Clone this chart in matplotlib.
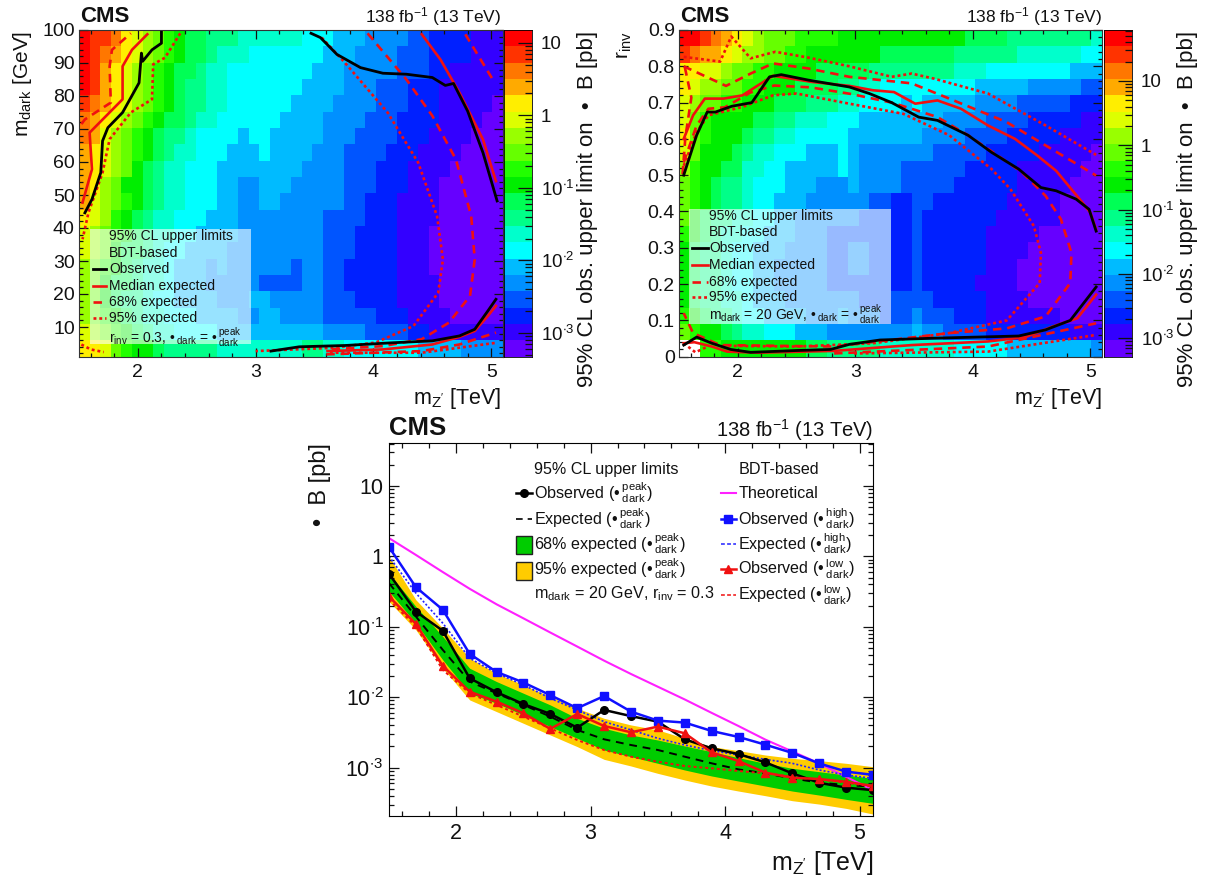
#!/usr/bin/env python
# cms dark sector limits: two 2d scans and the 1d limit plot
import numpy as np
import matplotlib
matplotlib.use('Agg')
import matplotlib.pyplot as plt
from matplotlib.colors import ListedColormap, BoundaryNorm
from matplotlib.lines import Line2D
from matplotlib.patches import Rectangle
from matplotlib.ticker import FixedLocator, LogLocator, MultipleLocator, NullFormatter

plt.rcParams['font.family'] = ['Liberation Sans', 'DejaVu Sans']
plt.rcParams['mathtext.fontset'] = 'custom'
plt.rcParams['mathtext.rm'] = 'Liberation Sans'
plt.rcParams['mathtext.it'] = 'Liberation Sans'
plt.rcParams['mathtext.bf'] = 'Liberation Sans:bold'

W, H = 1205, 880

# palette bands, bottom of the colour bar to the top
band_colors = ['#6600ff', '#3300ff', '#0020ff', '#0055ff', '#0090ff', '#00bbff', '#00ffff',
               '#00ffcc', '#00ff88', '#00ff55', '#00ee00', '#22ff00', '#66ff00', '#99ff00',
               '#ddff00', '#ffee00', '#ffaa00', '#ff7700', '#ff3300', '#ff0000']
band_chars = '0123456789abcdefghij'

# colour band of each cell, first string is the top row (mdark = 100)
left_cells = [
    'jiihfedcba99888777777' + '6665554444332222111',
    'jihgfedcba99877766666' + '6655544443332222111',
    'jigfedcba99877666666' + '6' + '6555444443332211111',
    'jigfedcba98877666666' + '6' + '5555444333222111111',
    'ihgfedcba98877666666' + '5' + '5554444333222111110',
    'hgfedcba998776666665' + '5' + '5544443332222111100',
    'hgedcba9887666656655' + '5' + '5544433332221111000',
    'gfedcba9877666555655' + '5' + '5444333322211110000',
    'gfedca98776665555555' + '5' + '4444333222111100000',
    'gfdcaa98776665544555' + '4' + '4444333222111000000',
    'gedcba98776665544554' + '4' + '4444332221111000000',
    'fedba987766655544444' + '4' + '4433332221111000000',
    'edcba987766555544444' + '4' + '4433322221110000000',
    'edca9987665555444444' + '4' + '4433322221110000000',
    'dcba9877655545444444' + '3' + '4433222221110000000',
    'dca99877655544444333' + '3' + '4433222221111000000',
    'dca98876655554445544' + '4' + '4433322221111000000',
    'dcba9877666555544554' + '4' + '4433333222111100000',
    'edcba987766665555555' + '5' + '5544443333221111111',
    'ffecbaa9888887777777' + '7' + '8877666666655554444',
]

# same for the rinv scan, first string is the top row (rinv = 0.9), '.' is an empty cell
right_cells = [
    'jjihgfedcccbbbbaaaaa' + 'aa' + 'aaaaa9999888888887',
    'ihggfeddccbbaaaaaaa9' + '99' + '999988888877777766',
    'ffeedccbbaaaa9999988' + '88' + '888877766666666555',
    'feddccbbaaa999988776' + '66' + '666666555554444433',
    'edccbbaaa99988877666' + '65' + '655555444433333222',
    'ecbaaaa9988777666555' + '55' + '555444433332222211',
    'fcbaaa98877666665555' + '55' + '544443333222221111',
    'ecaaa987766655565444' + '44' + '443333322222111110',
    'dbaa9977665555565444' + '43' + '333332222211111100',
    'cba98876665554445444' + '43' + '333322222211111000',
    'cba98876655544444433' + '22' + '332222222111110000',
    'ca988776655444444333' + '22' + '322222221111110000',
    'ba987766555444333333' + '22' + '322222211111000000',
    'a9887665554444334433' + '22' + '322222211110000000',
    'a9887665544444334433' + '22' + '322222211100000000',
    'a9887665544444333333' + '22' + '322222111100000000',
    'a9887765554444444333' + '33' + '332222211110000000',
    'ba988766555544454443' + '33' + '433322211111110000',
    'cbaa9877666555444444' + '44' + '544333322222222111',
    '..bbaaaaaaaa99888887' + '77' + '777766666555555554',
]

# left scan contours: x in TeV, y in GeV
l_obs_a = [[1.55, 1.61, 1.685, 1.70, 1.745, 1.87, 2.01, 2.03, 2.04, 2.12, 2.20, 2.20],
           [44.6, 48.7, 56.8, 66.4, 70.4, 75.0, 84.0, 93.0, 90.5, 94.0, 96.0, 100.0]]
l_obs_b = [[3.47, 3.55, 3.69, 3.89, 4.08, 4.28, 4.50, 4.61, 4.68, 4.80, 4.93, 5.05],
           [99.0, 97.7, 92.6, 88.6, 86.9, 86.6, 85.6, 83.2, 83.8, 75.4, 62.8, 48.2]]
l_obs_c = [[3.13, 3.37, 3.76, 4.15, 4.50, 4.73, 4.86, 4.97, 5.04],
           [2.7, 4.0, 4.4, 5.2, 5.8, 7.3, 9.3, 14.8, 18.4]]
l_med_a = [[1.53, 1.61, 1.59, 1.87, 1.87, 1.95, 2.08],
           [47.7, 57.8, 68.9, 79.0, 89.0, 94.0, 98.7]]
l_med_b = [[4.41, 4.57, 4.73, 4.93, 5.04], [98.7, 91.0, 81.0, 66.8, 54.2]]
l_med_c = [[3.61, 4.08, 4.50, 4.73, 4.86, 4.97, 5.04], [2.7, 3.2, 4.7, 7.0, 8.8, 13.3, 16.4]]
l_68_a = [[1.52, 1.55, 1.77, 1.76, 1.78, 1.94], [71.5, 72.9, 78.0, 89.0, 94.0, 99.0]]
l_68_b = [[3.95, 4.28, 4.50, 4.70, 4.83, 4.86, 4.82, 4.64, 4.41, 4.08, 3.60],
          [99.0, 85.0, 74.0, 60.8, 43.6, 30.5, 19.4, 11.3, 6.3, 4.2, 3.2]]
l_68_c = [[4.78, 5.03], [98.7, 84.0]]
l_68_d = [[3.60, 4.41, 4.73, 5.04], [1.7, 2.7, 4.7, 8.3]]
l_95_a = [[2.36, 2.23, 2.13, 2.12, 1.94, 1.76, 1.70, 1.58, 1.53],
          [99.0, 91.6, 89.6, 79.0, 75.0, 66.9, 56.8, 44.6, 36.6]]
l_95_b = [[3.56, 3.76, 4.12, 4.38, 4.54, 4.59, 4.55, 4.34, 4.02, 3.66, 3.00],
          [97.7, 90.0, 75.0, 59.8, 43.6, 30.5, 20.4, 10.3, 5.3, 3.7, 2.7]]
l_95_c = [[3.63, 4.41, 5.04], [2.2, 2.2, 5.2]]
l_95_d = [[1.52, 1.60, 1.71], [4.7, 3.2, 2.4]]

# right scan contours: x in TeV, y is rinv
r_obs_a = [[1.54, 1.65, 1.74, 1.81, 1.95, 2.12, 2.27, 2.37, 2.60, 2.95, 3.12, 3.31, 3.54, 3.70,
            3.96, 4.16, 4.39, 4.58, 4.71, 4.88, 4.99, 5.05],
           [.50, .61, .674, .674, .69, .70, .771, .777, .762, .743, .725, .70, .66, .651,
            .61, .563, .517, .466, .457, .434, .406, .346]]
r_obs_b = [[1.54, 1.65, 1.78, 1.94, 2.11, 2.50, 2.79, 2.95, 3.21, 3.67, 4.39, 4.62, 4.83, 5.05],
           [.032, .054, .037, .02, .012, .017, .02, .034, .046, .051, .057, .074, .10, .192]]
r_med_a = [[1.54, 1.62, 1.72, 1.88, 2.04, 2.30, 2.63, 2.95, 3.15, 3.33, 3.51, 3.70, 3.90, 4.13,
            4.36, 4.55, 4.71, 4.91, 5.00, 5.05],
           [.60, .665, .711, .711, .72, .774, .757, .746, .734, .729, .697, .706, .683, .637,
            .60, .554, .512, .434, .397, .35]]
r_med_b = [[1.54, 1.63, 1.78, 1.91, 2.17, 2.82, 3.48, 4.13, 4.45, 4.68, 4.89, 5.05],
           [.037, .04, .028, .014, .011, .016, .032, .042, .054, .083, .106, .171]]
r_68_a = [[1.54, 1.90, 2.11, 2.30, 2.60, 2.95, 3.48, 3.80, 4.29, 4.62, 5.05],
          [.80, .746, .78, .808, .794, .771, .753, .711, .646, .582, .499]]
r_68_b = [[1.55, 1.605, 1.554, 1.53], [.797, .714, .604, .50]]
r_68_c = [[1.54, 1.65, 1.75, 1.89, 2.11, 2.31, 2.62, 2.96, 3.31, 3.48, 3.70, 3.96, 4.42, 4.62,
           4.75, 4.84, 4.83, 4.62, 4.29, 3.80, 2.82, 1.85, 1.62, 1.54],
          [.535, .637, .683, .687, .728, .747, .742, .724, .70, .683, .66, .61, .508, .443,
           .379, .286, .203, .111, .078, .065, .028, .032, .065, .12]]
r_68_d = [[2.82, 4.13, 5.05], [.009, .028, .092]]
r_95_a = [[1.54, 1.85, 1.945, 2.11, 2.32, 2.60, 2.95, 3.31, 3.48, 3.67, 4.13, 4.62, 5.05],
          [.826, .813, .882, .822, .84, .824, .80, .771, .78, .766, .725, .637, .556]]
r_95_b = [[1.54, 1.65, 1.75, 2.04, 2.30, 2.50, 2.95, 3.41, 3.80, 4.16, 4.32, 4.52, 4.58, 4.57,
           4.29, 3.80, 3.15, 2.50, 1.85],
          [.526, .619, .665, .688, .72, .725, .697, .669, .61, .517, .462, .36, .286, .203,
           .10, .065, .037, .028, .03]]
r_95_c = [[2.99, 4.13, 5.05], [.009, .014, .06]]
r_95_d = [[1.54, 1.64, 1.73], [.037, .012, .026]]

# limit plot, mass points in TeV
mass = [1.5, 1.7, 1.9, 2.1, 2.3, 2.5, 2.7, 2.9, 3.1, 3.3, 3.5, 3.7, 3.9, 4.1, 4.3, 4.5, 4.7, 4.9, 5.1]
obs_peak = [0.567, 0.165, 0.088, 0.0186, 0.0118, 0.0080, 0.0058, 0.0037, 0.0066, 0.0054, 0.0045,
            0.00253, 0.00188, 0.00156, 0.00119, 0.00083, 0.00061, 0.00052, 0.00048]
obs_high = [1.36, 0.366, 0.175, 0.0413, 0.0229, 0.0162, 0.0107, 0.0070, 0.0104, 0.00625, 0.00466,
            0.00437, 0.00332, 0.00273, 0.00212, 0.00162, 0.00115, 0.00088, 0.00079]
obs_low = [0.27, 0.110, 0.0279, 0.0120, 0.00868, 0.00593, 0.00355, 0.00579, 0.00391, 0.00318,
           0.00383, 0.00308, 0.00165, 0.00124, 0.00085, 0.00072, 0.00069, 0.00063, 0.00055]
theory = [1.82, 1.05, 0.60, 0.347, 0.209, 0.132, 0.083, 0.0525, 0.0331, 0.0214, 0.0141, 0.0093,
          0.0060, 0.0039, 0.0025, 0.0017, 0.00115, 0.00074, 0.00048]
# log10 of the limit in pb
log_95_hi = [0, -.616, -1.019, -1.445, -1.659, -1.825, -1.991, -2.156, -2.299, -2.393, -2.464,
             -2.583, -2.701, -2.758, -2.82, -2.867, -2.9, -2.938, -2.986]
log_95_lo = [-.64, -1.043, -1.588, -2.038, -2.204, -2.37, -2.536, -2.701, -2.882, -2.976, -3.081,
             -3.175, -3.261, -3.332, -3.398, -3.469, -3.517, -3.578, -3.659]
log_68_hi = [-.237, -.711, -1.137, -1.588, -1.777, -1.943, -2.109, -2.299, -2.441, -2.536, -2.607,
             -2.692, -2.773, -2.858, -2.938, -3.009, -3.057, -3.104, -3.152]
log_68_lo = [-.498, -.948, -1.469, -1.943, -2.085, -2.251, -2.417, -2.583, -2.749, -2.844, -2.938,
             -3.033, -3.118, -3.19, -3.261, -3.332, -3.389, -3.45, -3.507]
log_exp_peak = [-.379, -.853, -1.327, -1.777, -1.943, -2.109, -2.275, -2.464, -2.597, -2.678,
                -2.749, -2.844, -2.938, -3.024, -3.081, -3.152, -3.213, -3.246, -3.27]
log_exp_high = [0, -.521, -.948, -1.445, -1.659, -1.825, -2.014, -2.18, -2.346, -2.464, -2.583,
                -2.678, -2.758, -2.82, -2.882, -2.938, -3.033, -3.104, -3.152]
log_exp_low = [-.616, -.995, -1.611, -1.943, -2.109, -2.275, -2.441, -2.607, -2.749, -2.844,
               -2.915, -2.976, -3.009, -3.047, -3.081, -3.128, -3.166, -3.213, -3.27]

x_limits = (1.5, 5.1)
log_labels = ['$\\mathregular{10^{\\bullet 3}}$', '$\\mathregular{10^{\\bullet 2}}$',
              '$\\mathregular{10^{\\bullet 1}}$', '1', '10']
log_ticks = [1e-3, 1e-2, 1e-1, 1, 10]

red = '#f01010'
dash_68 = (0, (3.2, 2.2))
dot_95 = (0, (1.1, 1.1))

fig = plt.figure(figsize=(W / 100, H / 100), dpi=100)


def axes_px(left, top, right, bottom):
    return fig.add_axes([left / W, 1 - bottom / H, (right - left) / W, (bottom - top) / H])


def text_px(x, y, s, **kw):
    kw.setdefault('va', 'center')
    kw.setdefault('ha', 'left')
    kw.setdefault('color', '#111111')
    fig.text(x / W, 1 - y / H, s, **kw)


def key_line(x0, x1, y, **kw):
    fig.add_artist(Line2D([x0 / W, x1 / W], [1 - y / H, 1 - y / H], transform=fig.transFigure, **kw))


def heat_panel(rect, cbar_rect, cells, ylim, zlim, lines):
    ax = axes_px(*rect)
    levels = np.geomspace(zlim[0], zlim[1], 21)
    mids = np.sqrt(levels[:-1] * levels[1:])
    cmap = ListedColormap(band_colors)
    norm = BoundaryNorm(levels, 20)
    grid = np.full((20, 40), np.nan)
    for r, row in enumerate(cells):
        for c, ch in enumerate(row):
            if ch != '.':
                grid[19 - r, c] = mids[band_chars.index(ch)]
    xe = np.linspace(x_limits[0], x_limits[1], 41)
    ye = np.linspace(ylim[0], ylim[1], 21)
    ax.pcolormesh(xe, ye, np.ma.masked_invalid(grid), cmap=cmap, norm=norm)
    for pts, style in lines:
        ax.plot(pts[0], pts[1], **style)
    ax.set_xlim(x_limits)
    ax.set_ylim(ylim)
    ax.xaxis.set_major_locator(MultipleLocator(1))
    ax.xaxis.set_minor_locator(MultipleLocator(0.2))
    ax.tick_params(which='both', direction='in', top=True, right=True, labelsize=14, colors='#111111')
    ax.tick_params(which='major', length=6.5, width=0.9)
    ax.tick_params(which='minor', length=3.2, width=0.9)
    ax.tick_params(axis='x', pad=5)
    ax.tick_params(axis='y', pad=3)
    for s in ax.spines.values():
        s.set_color('#333333')

    cax = axes_px(*cbar_rect)
    cax.pcolormesh([0, 1], levels, mids.reshape(-1, 1), cmap=cmap, norm=norm)
    cax.set_yscale('log')
    cax.set_ylim(zlim)
    cax.set_xticks([])
    cax.yaxis.tick_right()
    cax.yaxis.set_major_locator(FixedLocator(log_ticks))
    cax.set_yticklabels(log_labels)
    cax.yaxis.set_minor_locator(LogLocator(base=10, subs=range(2, 10), numticks=50))
    cax.yaxis.set_minor_formatter(NullFormatter())
    cax.tick_params(which='both', direction='in', labelsize=13.5, colors='#111111')
    cax.tick_params(which='major', length=10, width=0.9, pad=6.5)
    cax.tick_params(which='minor', length=5, width=0.9)
    for s in cax.spines.values():
        s.set_linewidth(0.6)
    return ax


obs_style = dict(color='black', lw=2.0)
med_style = dict(color=red, lw=1.9)
s68 = dict(color=red, lw=1.9, ls=dash_68)
s95 = dict(color=red, lw=1.9, ls=dot_95)

left_lines = [(l_68_a, s68), (l_68_b, s68), (l_68_c, s68), (l_68_d, s68),
              (l_95_a, s95), (l_95_b, s95), (l_95_c, s95), (l_95_d, s95),
              (l_med_a, med_style), (l_med_b, med_style), (l_med_c, med_style),
              (l_obs_a, obs_style), (l_obs_b, obs_style), (l_obs_c, obs_style)]
ax1 = heat_panel((79, 30, 503, 356.7), (504, 30, 532, 356.7), left_cells, (1, 100), (4.7e-4, 15), left_lines)
ax1.yaxis.set_major_locator(FixedLocator([10, 20, 30, 40, 50, 60, 70, 80, 90, 100]))
ax1.yaxis.set_minor_locator(MultipleLocator(2))

right_lines = [(r_68_a, s68), (r_68_b, s68), (r_68_c, s68), (r_68_d, s68),
               (r_95_a, s95), (r_95_b, s95), (r_95_c, s95), (r_95_d, s95),
               (r_med_a, med_style), (r_med_b, med_style),
               (r_obs_a, obs_style), (r_obs_b, obs_style)]
ax2 = heat_panel((679, 30, 1102, 356.7), (1104, 30, 1132, 356.7), right_cells, (0, 0.9), (5.2e-4, 62), right_lines)
ax2.yaxis.set_major_locator(MultipleLocator(0.1))
ax2.yaxis.set_minor_locator(MultipleLocator(0.02))
ax2.set_yticks([0, .1, .2, .3, .4, .5, .6, .7, .8, .9])
ax2.set_yticklabels(['0', '0.1', '0.2', '0.3', '0.4', '0.5', '0.6', '0.7', '0.8', '0.9'])

# headers and axis titles of the two scans
for x_cms, x_right, x_ylab, x_zlab, ylab in [(80, 501, 23, 588, 'm$\\mathregular{_{dark}}$ [GeV]'),
                                             (680, 1102, 624, 1187, 'r$\\mathregular{_{inv}}$')]:
    text_px(x_cms, 16, 'CMS', fontsize=16, fontweight='bold')
    text_px(x_right, 17, '138 fb$\\mathregular{^{-1}}$ (13 TeV)', fontsize=12.5, ha='right')
    text_px(x_ylab, 31, ylab, fontsize=15, rotation=90, ha='center', va='top')
    text_px(x_zlab, 31, '95% CL obs. upper limit on  \u2022  B [pb]', fontsize=16, rotation=90, ha='center', va='top')
    text_px(x_right, 398, "m$\\mathregular{_{Z'}}$ [TeV]", fontsize=15.5, ha='right')

# legends of the two scans
legend_rows = [('95% CL upper limits', None), ('BDT-based', None), ('Observed', obs_style),
               ('Median expected', med_style), ('68% expected', s68), ('95% expected', s95)]
for box, xt, xk, ys, last in [
        ((90, 229, 251, 344), 109, (93, 106), [236, 253, 269, 286, 302, 318, 337],
         'r$\\mathregular{_{inv}}$ = 0.3, \u2022$\\mathregular{\\,_{dark}}$ = \u2022$\\mathregular{\\,^{peak}_{dark}}$'),
        ((689, 209, 891, 324), 709, (692, 708), [216, 232, 248, 265, 282, 297, 314],
         'm$\\mathregular{_{dark}}$ = 20 GeV, \u2022$\\mathregular{\\,_{dark}}$ = \u2022$\\mathregular{\\,^{peak}_{dark}}$')]:
    x0, y0, x1, y1 = box
    fig.add_artist(Rectangle((x0 / W, 1 - y1 / H), (x1 - x0) / W, (y1 - y0) / H, transform=fig.transFigure,
                             facecolor='white', edgecolor='none', alpha=0.6))
    for (label, style), y in zip(legend_rows, ys):
        text_px(xt, y, label, fontsize=10)
        if style is not None:
            key_line(xk[0], xk[1], y, **style)
    text_px(xt, ys[-1], last, fontsize=10)

# limit plot
ax3 = axes_px(389, 443, 873, 816)
m = np.array(mass)
ax3.fill_between(m, 10.0 ** np.array(log_95_lo), 10.0 ** np.array(log_95_hi), color='#ffcc00', lw=0)
ax3.fill_between(m, 10.0 ** np.array(log_68_lo), 10.0 ** np.array(log_68_hi), color='#00cc00', lw=0)
ax3.plot(m, theory, color='#ff20ff', lw=1.5)
ax3.plot(m, 10.0 ** np.array(log_exp_high), color='#2020ff', lw=1.2, ls=(0, (1.2, 1.2)))
ax3.plot(m, 10.0 ** np.array(log_exp_peak), color='black', lw=1.4, ls=(0, (4, 3)))
ax3.plot(m, 10.0 ** np.array(log_exp_low), color=red, lw=1.4, ls=(0, (1.5, 1.5)))
ax3.plot(m, obs_peak, color='black', lw=1.8, marker='o', ms=5.5)
ax3.plot(m, obs_high, color='#1010ff', lw=1.8, marker='s', ms=5.5)
ax3.plot(m, obs_low, color=red, lw=1.8, marker='^', ms=5.5)
ax3.set_xlim(x_limits)
ax3.set_yscale('log')
ax3.set_ylim(2.06e-4, 40.8)
ax3.xaxis.set_major_locator(MultipleLocator(1))
ax3.xaxis.set_minor_locator(MultipleLocator(0.2))
ax3.yaxis.set_major_locator(FixedLocator(log_ticks))
ax3.set_yticklabels(log_labels)
ax3.yaxis.set_minor_locator(LogLocator(base=10, subs=range(2, 10), numticks=50))
ax3.yaxis.set_minor_formatter(NullFormatter())
ax3.tick_params(which='both', direction='in', top=True, right=True, labelsize=15.5, colors='#111111')
ax3.tick_params(which='major', length=7.5, width=0.9)
ax3.tick_params(which='minor', length=3.8, width=0.9)
ax3.tick_params(axis='x', pad=5)
ax3.tick_params(axis='y', pad=4)

text_px(389.5, 428, 'CMS', fontsize=18.5, fontweight='bold')
text_px(873, 430, '138 fb$\\mathregular{^{-1}}$ (13 TeV)', fontsize=14.5, ha='right')
text_px(320, 443, '\u2022  B [pb]', fontsize=17, rotation=90, ha='center', va='top')
text_px(873, 863, "m$\\mathregular{_{Z'}}$ [TeV]", fontsize=18, ha='right')

# legend of the limit plot
lfs = 11.6
text_px(534, 469, '95% CL upper limits', fontsize=lfs)
text_px(738.5, 469, 'BDT-based', fontsize=lfs)
peak = '\u2022$\\mathregular{\\,^{peak}_{dark}}$)'
high = '\u2022$\\mathregular{\\,^{high}_{dark}}$)'
low = '\u2022$\\mathregular{\\,^{low}_{dark}}$)'
text_px(534, 493, 'Observed (' + peak, fontsize=lfs)
text_px(534, 519, 'Expected (' + peak, fontsize=lfs)
text_px(534, 544, '68% expected (' + peak, fontsize=lfs)
text_px(534, 569, '95% expected (' + peak, fontsize=lfs)
text_px(534, 594, 'm$\\mathregular{_{dark}}$ = 20 GeV, r$\\mathregular{_{inv}}$ = 0.3', fontsize=lfs)
text_px(738.5, 493, 'Theoretical', fontsize=lfs)
text_px(738.5, 519, 'Observed (' + high, fontsize=lfs)
text_px(738.5, 544, 'Expected (' + high, fontsize=lfs)
text_px(738.5, 569, 'Observed (' + low, fontsize=lfs)
text_px(738.5, 595, 'Expected (' + low, fontsize=lfs)
key_line(516, 532, 493, color='black', lw=1.8)
key_line(516, 532, 519, color='black', lw=1.2, ls=(0, (4, 3)))
key_line(720.5, 736, 493, color='#ff20ff', lw=1.5)
key_line(720.5, 736, 519, color='#1010ff', lw=1.8)
key_line(720.5, 736, 544, color='#2020ff', lw=1.1, ls=(0, (2.5, 1.5)))
key_line(720.5, 736, 569, color=red, lw=1.8)
key_line(720.5, 736, 595, color=red, lw=1.1, ls=(0, (2.5, 1.5)))
fig.add_artist(Line2D([524 / W], [1 - 493 / H], color='black', marker='o', ms=5.5, ls='none', transform=fig.transFigure))
fig.add_artist(Line2D([728 / W], [1 - 519 / H], color='#1010ff', marker='s', ms=5.5, ls='none', transform=fig.transFigure))
fig.add_artist(Line2D([728 / W], [1 - 569 / H], color=red, marker='^', ms=5.5, ls='none', transform=fig.transFigure))
for y0, y1, col in [(536, 554, '#00cc00'), (562, 580, '#ffcc00')]:
    fig.add_artist(Rectangle((516 / W, 1 - y1 / H), 16 / W, (y1 - y0) / H, transform=fig.transFigure,
                             facecolor=col, edgecolor='#222222', lw=1))

fig.savefig('out.png', dpi=100)
